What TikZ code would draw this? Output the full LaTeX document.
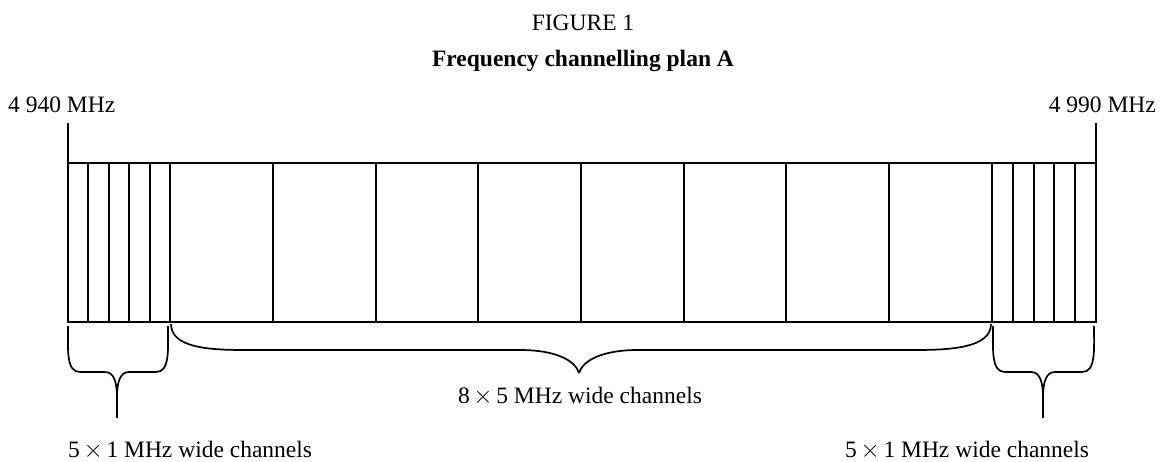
\documentclass[tikz,border=0pt]{standalone}
\usepackage{fontspec}
\setmainfont{Liberation Serif}
\newcommand{\tms}{\hspace{3.6pt}$\times$\hspace{3.6pt}}
\begin{document}
\begin{tikzpicture}[x=1pt,y=-1pt,
  ln/.style={line width=1.7pt},
  brc/.style={line width=1.7pt},
  lbl/.style={inner sep=0pt,font=\fontsize{23.5}{28}\selectfont}]
\useasboundingbox (0,0) rectangle (1164,461);
% band
\coordinate (tl) at (68,163);
\coordinate (br) at (1096,322);
\draw[ln] (tl) rectangle (br);
\coordinate (ltick) at (68,123);
\coordinate (rtick) at (1096,123);
\draw[ln] (ltick) -- (tl);
\draw[ln] (rtick) -- (1096,163);
% small channels left
\foreach \x in {88,109,129,150,170} \draw[ln] (\x,163) -- (\x,322);
% large channels
\foreach \x in {273,376,478,581,684,786,889,992} \draw[ln] (\x,163) -- (\x,322);
% small channels right
\foreach \x in {1013,1034,1054,1075} \draw[ln] (\x,163) -- (\x,322);
% left small brace
\coordinate (lb) at (117,418);
\draw[brc] (68,326) .. controls (68,350) and (66,372) .. (80,372) -- (105,372)
  .. controls (114,372) and (117,382) .. (117,398) -- (lb);
\draw[brc] (168,326) .. controls (168,350) and (170,372) .. (156,372) -- (129,372)
  .. controls (120,372) and (117,382) .. (117,398);
% right small brace
\coordinate (rb) at (1043,418);
\draw[brc] (993,326) .. controls (993,350) and (991,372) .. (1005,372) -- (1031,372)
  .. controls (1040,372) and (1043,382) .. (1043,398) -- (rb);
\draw[brc] (1094,326) .. controls (1094,350) and (1096,372) .. (1082,372) -- (1055,372)
  .. controls (1046,372) and (1043,382) .. (1043,398);
% big brace
\coordinate (bb) at (579,373);
\draw[brc] (171,324) .. controls (171,348) and (210,350) .. (245,350) -- (520,350)
  .. controls (555,350) and (575,360) .. (bb);
\draw[brc] (991,324) .. controls (991,348) and (950,350) .. (915,350) -- (638,350)
  .. controls (603,350) and (583,360) .. (bb);
% texts
\node[lbl,anchor=base] (fig) at (583,30) {FIGURE 1};
\node[lbl,anchor=base,font=\fontsize{23.5}{28}\selectfont\bfseries] (title) at (583,66) {Frequency channelling plan A};
\node[lbl,anchor=base west] (f1) at (8,112) {4 940 MHz};
\node[lbl,anchor=base east] (f2) at (1156,112) {4 990 MHz};
\node[lbl,anchor=base] (big) at (580,403) {8\tms 5 MHz wide channels};
\node[lbl,anchor=base west] (s1) at (68,457) {5\tms 1 MHz wide channels};
\node[lbl,anchor=base west] (s2) at (845,457) {5\tms 1 MHz wide channels};
\end{tikzpicture}
\end{document}
